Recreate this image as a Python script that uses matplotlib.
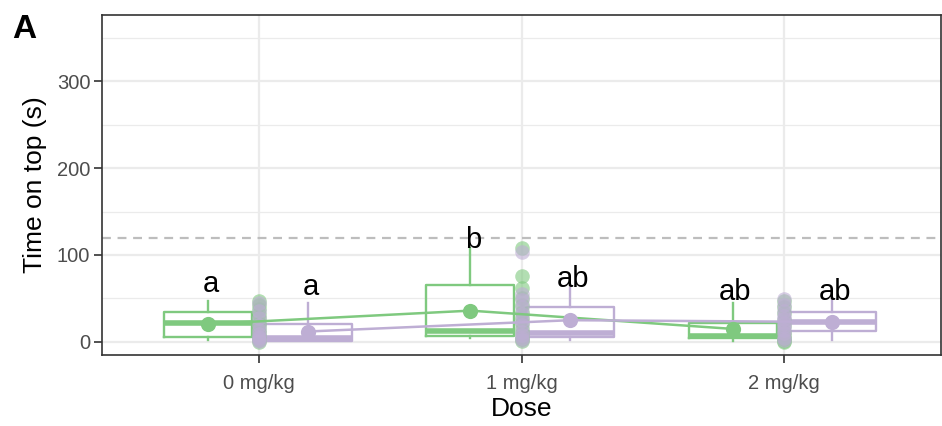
import matplotlib as mpl
mpl.use('Agg')
import matplotlib.pyplot as plt
import numpy as np

plt.rcParams['font.family'] = ['Liberation Sans', 'DejaVu Sans']

doses = ['0 mg/kg', '1 mg/kg', '2 mg/kg']
groups = ['green', 'purple']
colors = {'green': '#7FC97F', 'purple': '#BEAED4'}

# box summaries per group, one entry per dose
box_stats = {
    'green': {
        'whislo': [2, 4.6, 1],
        'q1': [5.7, 7, 4.6],
        'med': [22, 13, 7],
        'q3': [34.5, 65.5, 21.8],
        'whishi': [47.5, 108, 45],
    },
    'purple': {
        'whislo': [1, 2, 2],
        'q1': [1, 5.7, 13],
        'med': [5, 10, 23.3],
        'q3': [20.7, 40.6, 34.8],
        'whishi': [45, 62, 49],
    },
}
means = {
    'green': [20.7, 36, 15],
    'purple': [12, 25, 23],
}
raw_points = {
    'green': [
        [47, 43, 38, 32, 27, 22, 18, 14, 10, 7, 4, 2, 0],
        [108, 76, 62, 50, 42, 35, 28, 22, 15, 10, 6, 3, 1],
        [47, 40, 33, 25, 18, 12, 8, 5, 3, 1, 0],
    ],
    'purple': [
        [45, 36, 28, 20, 14, 9, 6, 4, 2, 1],
        [104, 55, 48, 40, 32, 25, 20, 12, 8, 5, 2],
        [49, 42, 36, 30, 26, 22, 18, 14, 10, 5, 2],
    ],
}
letters = {
    'green': ['a', 'b', 'ab'],
    'purple': ['a', 'ab', 'ab'],
}
letter_y = {
    'green': [58, 108, 48],
    'purple': [54, 63.6, 48],
}
reference_time = 120

offsets = {'green': -0.195, 'purple': 0.185}
box_width = 0.335

fig = plt.figure(figsize=(9.42, 4.26), dpi=100)
ax = fig.add_axes([0.1083, 0.1667, 0.8907, 0.7981])

x = np.arange(1, len(doses) + 1)

for g in groups:
    c = colors[g]
    st = box_stats[g]
    bxp_data = [
        {'whislo': st['whislo'][i], 'q1': st['q1'][i], 'med': st['med'][i],
         'q3': st['q3'][i], 'whishi': st['whishi'][i], 'fliers': []}
        for i in range(len(doses))
    ]
    ax.bxp(bxp_data, positions=x + offsets[g], widths=box_width,
           showcaps=False, showfliers=False, manage_ticks=False,
           boxprops=dict(color=c, linewidth=1.7),
           whiskerprops=dict(color=c, linewidth=1.7),
           medianprops=dict(color=c, linewidth=4, solid_capstyle='butt'),
           zorder=3)
    for i, vals in enumerate(raw_points[g]):
        ax.scatter(np.full(len(vals), x[i]), vals, s=110, color=c,
                   alpha=0.6, linewidths=0, zorder=4)
    ax.plot(x + offsets[g], means[g], color=c, linewidth=1.8, zorder=5)
    ax.scatter(x + offsets[g], means[g], s=120, color=c, linewidths=0, zorder=6)
    for i, lab in enumerate(letters[g]):
        ax.text(x[i] + offsets[g] + 0.01, letter_y[g][i], lab, ha='center',
                va='baseline', fontsize=21, color='black', zorder=7)

ax.axhline(reference_time, color='#BDBDBD', linestyle=(0, (4, 3)),
           linewidth=1.6, zorder=2)

ax.set_xlim(0.4, 3.6)
ax.set_ylim(-15, 376)
ax.set_xticks(x)
ax.set_xticklabels(doses)
ax.set_yticks([0, 100, 200, 300])
ax.set_yticks([50, 150, 250, 350], minor=True)
ax.grid(True, which='major', color='#EBEBEB', linewidth=1.6, zorder=0)
ax.grid(True, which='minor', axis='y', color='#EBEBEB', linewidth=0.9, zorder=0)
ax.set_axisbelow(True)
ax.tick_params(axis='both', which='major', length=5.5, width=1.2,
               color='#333333', labelcolor='#4D4D4D', labelsize=14.5)
ax.tick_params(axis='x', which='major', pad=8)
ax.tick_params(axis='y', which='major', pad=3)
ax.tick_params(axis='both', which='minor', length=0)
for sp in ax.spines.values():
    sp.set_color('#333333')
    sp.set_linewidth(1.2)

ax.set_xlabel('Dose', fontsize=19, labelpad=3)
ax.set_ylabel('Time on top (s)', fontsize=19, labelpad=7)
fig.text(0.013, 0.91, 'A', fontsize=24, fontweight='bold')

fig.savefig('out.png', dpi=100)
plt.close(fig)
